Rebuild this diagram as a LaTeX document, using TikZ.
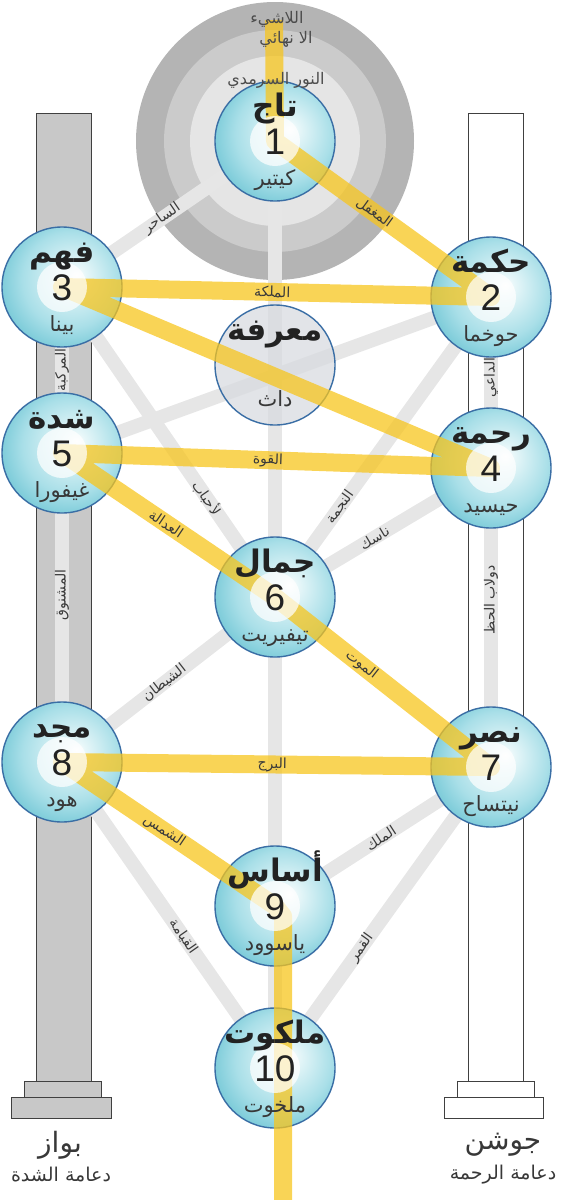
\documentclass[tikz,border=0pt]{standalone}
\usepackage{fontspec}
\usetikzlibrary{calc}
\newfontfamily\arf[Script=Arabic]{DejaVu Sans}
\newfontfamily\numf{Liberation Sans}
\TeXXeTstate=1
\newcommand{\artx}[1]{{\arf\beginR #1\endR}}
\definecolor{ringA}{HTML}{B4B4B4}
\definecolor{ringB}{HTML}{CBCBCB}
\definecolor{ringC}{HTML}{E5E5E5}
\definecolor{gpathc}{HTML}{E6E6E6}
\definecolor{ylwc}{HTML}{F7C51E}
\definecolor{sephedge}{HTML}{3A6EA5}
\definecolor{sephlight}{HTML}{E8F7F9}
\definecolor{sephmid}{HTML}{A9DFE8}
\definecolor{sephdark}{HTML}{6EC5D4}
\definecolor{daathfill}{HTML}{D8DBE0}
\definecolor{pillarc}{HTML}{C8C8C8}
\definecolor{txtc}{HTML}{222222}
\definecolor{lblc}{HTML}{3A3A3A}
\pgfdeclareradialshading{sephshade}{\pgfpoint{6bp}{5bp}}{color(0bp)=(white); color(4bp)=(sephlight); color(20bp)=(sephmid); color(31bp)=(sephdark); color(50bp)=(sephdark)}
\pgfdeclarelayer{lzero}
\pgfdeclarelayer{lone}
\pgfdeclarelayer{lthree}
\pgfdeclarelayer{lfour}
\pgfsetlayers{lzero,lone,main,lthree,lfour}
\begin{document}
\begin{tikzpicture}[x=1pt,y=-1pt,
  sephc/.style={circle, minimum size=120pt, inner sep=0pt, draw=sephedge, line width=1.4pt, shade, shading=sephshade},
  daathc/.style={circle, minimum size=120pt, inner sep=0pt, draw=sephedge, line width=1.4pt, fill=daathfill, fill opacity=0.75},
  glow/.style={circle, minimum size=50pt, inner sep=0pt, fill=white, fill opacity=0.72},
  gpath/.style={draw=gpathc, line width=14pt},
  ylw/.style={draw=ylwc, line width=18pt, draw opacity=0.75, line join=round},
  pillar/.style={draw=black!75, line width=1pt},
  ttl/.style={anchor=base, text=txtc, inner sep=0pt, font=\bfseries\fontsize{31}{33}\selectfont},
  numtxt/.style={anchor=base, text=txtc, inner sep=0pt, font=\numf\fontsize{37}{40}\selectfont},
  subtxt/.style={anchor=base, text=txtc!90, inner sep=0pt, font=\fontsize{21}{23}\selectfont},
  plbl/.style={text=lblc, inner sep=1pt, font=\fontsize{14}{15}\selectfont},
  halotxt/.style={text=black!70, inner sep=0pt, font=\fontsize{16}{18}\selectfont},
  pilname/.style={text=txtc!90, inner sep=0pt, font=\fontsize{28}{30}\selectfont},
  pilsub/.style={text=txtc!90, inner sep=0pt, font=\fontsize{19}{21}\selectfont}
]
\useasboundingbox (0,0) rectangle (561,1200);

% sephiroth circles
\foreach \nm/\xx/\yy in {n1/275/141, n2/491/297, n3/62/287, n4/491/468, n5/62/453, n6/275/597, n7/491/767, n8/62/762, n9/275/906, n10/275/1068}
  \node[sephc] (\nm) at (\xx,\yy) {};
\node[daathc] (nd) at (275,365) {};

\coordinate (ytop) at (274,20);
\coordinate (ykink) at (283,916);
\coordinate (ybot) at (283,1200);

% halo and pillars
\begin{pgfonlayer}{lzero}
  \fill[ringA] (n1.center) circle[radius=139];
  \fill[ringB] (n1.center) circle[radius=111];
  \fill[ringC] (n1.center) circle[radius=85];
  \draw[pillar, fill=pillarc] (36,113) rectangle (91,1081);
  \draw[pillar, fill=pillarc] (24,1081) rectangle (101,1097);
  \draw[pillar, fill=pillarc] (11,1097) rectangle (111,1118);
  \draw[pillar, fill=white] (468,113) rectangle (523,1081);
  \draw[pillar, fill=white] (457,1081) rectangle (534,1097);
  \draw[pillar, fill=white] (444,1097) rectangle (543,1118);
\end{pgfonlayer}

% grey paths
\begin{pgfonlayer}{lone}
  \foreach \pa/\pb in {n1/n3, n1/n6, n2/n4, n2/n6, n2/n5, n3/n5, n3/n6, n4/n6, n4/n7, n5/n8, n6/n8, n6/n9, n7/n9, n7/n10, n8/n10, n9/n10}
    \draw[gpath] (\pa.center) -- (\pb.center);
\end{pgfonlayer}

% lightning flash
\begin{pgfonlayer}{lthree}
  \draw[ylw] (ytop) -- (n1.center) -- (n2.center) -- (n3.center) -- (n4.center) -- (n5.center) -- (n6.center) -- (n7.center) -- (n8.center) -- (n9.center) -- (ykink) -- (ybot);
\end{pgfonlayer}

\begin{pgfonlayer}{lfour}
  \foreach \nm in {n1,n2,n3,n4,n5,n6,n7,n8,n9,n10}
    \node[glow] at (\nm.center) {};
  \foreach \nm/\tl/\dg/\sb in {n1/تاج/1/كيتير, n2/حكمة/2/حوخما, n3/فهم/3/بينا, n4/رحمة/4/حيسيد, n5/شدة/5/غيفورا, n6/جمال/6/تيفيريت, n7/نصر/7/نيتساح, n8/مجد/8/هود, n9/أساس/9/ياسوود, n10/ملكوت/10/ملخوت}{
    \node[ttl] at ($(\nm.center)+(0,-25)$) {\artx{\tl}};
    \node[numtxt] at ($(\nm.center)+(0,13)$) {\dg};
    \node[subtxt] at ($(\nm.center)+(0,44)$) {\artx{\sb}};
  }
  \node[ttl] at ($(nd.center)+(0,-25)$) {\artx{معرفة}};
  \node[subtxt] at ($(nd.center)+(0,41)$) {\artx{داث}};

  % halo texts
  \node[halotxt] (h1) at (277,19) {\artx{اللاشيء}};
  \node[halotxt] (h2) at (286,39) {\artx{الا نهائي}};
  \node[halotxt] (h3) at (276,80) {\artx{النور السرمدي}};

  % path labels
  \path (n1.center) -- node[plbl, pos=0.53, sloped] {\artx{الساحر}} (n3.center);
  \path (n1.center) -- node[plbl, pos=0.46, sloped] {\artx{المغفل}} (n2.center);
  \path (n3.center) -- node[plbl, pos=0.49, sloped] {\artx{الملكة}} (n2.center);
  \path (n5.center) -- node[plbl, pos=0.50, sloped] {\artx{المركبة}} (n3.center);
  \path (n4.center) -- node[plbl, pos=0.53, sloped] {\artx{الداعي}} (n2.center);
  \path (n5.center) -- node[plbl, pos=0.48, sloped] {\artx{القوة}} (n4.center);
  \path (n3.center) -- node[plbl, pos=0.68, sloped] {\artx{لأحباب}} (n6.center);
  \path (n2.center) -- node[plbl, pos=0.70, sloped] {\artx{النجمة}} (n6.center);
  \path (n4.center) -- node[plbl, pos=0.54, sloped] {\artx{ناسك}} (n6.center);
  \path (n5.center) -- node[plbl, pos=0.49, sloped] {\artx{العدالة}} (n6.center);
  \path (n8.center) -- node[plbl, pos=0.54, sloped] {\artx{المشنوق}} (n5.center);
  \path (n7.center) -- node[plbl, pos=0.56, sloped] {\artx{دولاب الحظ}} (n4.center);
  \path (n6.center) -- node[plbl, pos=0.40, sloped] {\artx{الموت}} (n7.center);
  \path (n6.center) -- node[plbl, pos=0.52, sloped] {\artx{الشيطان}} (n8.center);
  \path (n8.center) -- node[plbl, pos=0.49, sloped] {\artx{البرج}} (n7.center);
  \path (n8.center) -- node[plbl, pos=0.48, sloped] {\artx{الشمس}} (n9.center);
  \path (n7.center) -- node[plbl, pos=0.51, sloped] {\artx{الملك}} (n9.center);
  \path (n8.center) -- node[plbl, pos=0.57, sloped] {\artx{القيامة}} (n10.center);
  \path (n7.center) -- node[plbl, pos=0.60, sloped] {\artx{القمر}} (n10.center);
\end{pgfonlayer}

% pillar names
\node[pilname] (bz) at (60,1145) {\artx{بواز}};
\node[pilsub] (bzs) at (61,1175) {\artx{دعامة الشدة}};
\node[pilname] (jn) at (503,1145) {\artx{جوشن}};
\node[pilsub] (jns) at (503,1175) {\artx{دعامة الرحمة}};
\end{tikzpicture}
\end{document}
